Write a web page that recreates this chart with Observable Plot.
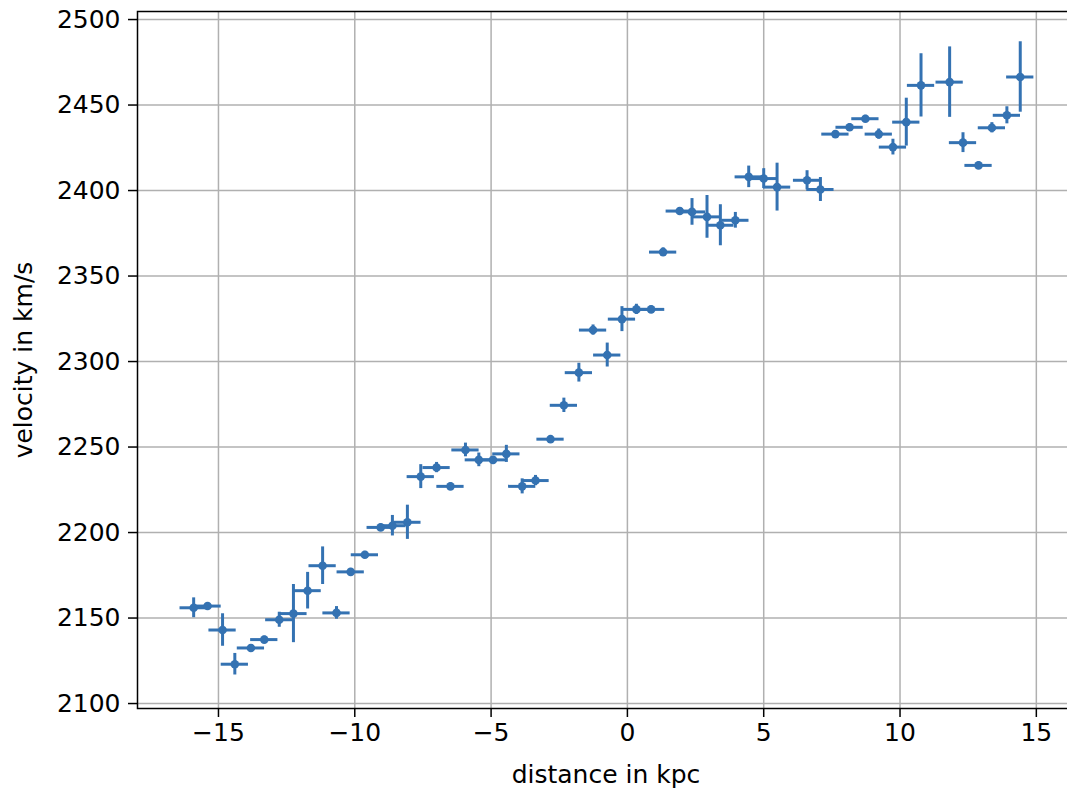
<!DOCTYPE html>
<html>
<head>
<meta charset="utf-8">
<script src="https://cdn.jsdelivr.net/npm/d3@7"></script>
<script src="https://cdn.jsdelivr.net/npm/@observablehq/plot@0.6"></script>
<style>
  html, body { margin: 0; padding: 0; background: white; overflow: hidden; width: 1067px; }
  #chart svg { display: block; }
</style>
</head>
<body>
<div id="chart"></div>
<script>
const distance = [-15.91, -15.4, -14.85, -14.4, -13.81, -13.32, -12.77, -12.25, -11.73, -11.18,
  -10.67, -10.15, -9.63, -9.05, -8.62, -8.07, -7.58, -7.0, -6.49, -5.94,
  -5.45, -4.93, -4.44, -3.86, -3.37, -2.82, -2.33, -1.78, -1.26, -0.74,
  -0.2, 0.33, 0.87, 1.31, 1.92, 2.37, 2.92, 3.41, 3.96, 4.45,
  5.0, 5.49, 6.59, 7.08, 7.63, 8.15, 8.73, 9.22, 9.74, 10.23,
  10.77, 11.82, 12.31, 12.88, 13.37, 13.92, 14.41];
const velocity = [2156, 2157, 2143, 2123, 2132.5, 2137.4, 2149, 2152.6, 2166, 2180.6,
  2153, 2177, 2187, 2203, 2204, 2206, 2232.7, 2238, 2227, 2248.3,
  2242.5, 2242.5, 2246, 2227, 2230.4, 2254.6, 2274.4, 2293.5, 2318.4, 2303.8,
  2324.8, 2330.5, 2330.5, 2364, 2388, 2387.5, 2384.6, 2379.7, 2382.6, 2408,
  2407, 2402, 2406, 2400.6, 2433, 2437, 2442, 2433, 2425.4, 2440,
  2461.5, 2463.4, 2428, 2414.7, 2436.7, 2444, 2466.4];
const velocityErr = [5.8, 2, 9.5, 6.3, 2, 2, 4.4, 17, 10.7, 11,
  3.7, 2, 2, 2, 6, 10, 7, 3, 2, 4,
  4, 2, 5, 4.4, 3, 2, 4.2, 5.5, 3, 7,
  7.3, 3, 2, 2.5, 2, 7.8, 12.5, 12, 4.6, 6.3,
  5.8, 14, 5.6, 7, 2, 2, 2, 3, 4.6, 14,
  18.5, 20.6, 5.8, 2, 3, 5, 20.6];
const distanceErr = 0.5;

const xTicks = [-15, -10, -5, 0, 5, 10, 15];
const yTicks = [2100, 2150, 2200, 2250, 2300, 2350, 2400, 2450, 2500];
const xLabel = "distance in kpc";
const yLabel = "velocity in km/s";

const data = distance.map((d, i) => ({
  x: d, v: velocity[i], e: velocityErr[i],
  x1: d - distanceErr, x2: d + distanceErr,
  y1: velocity[i] - velocityErr[i], y2: velocity[i] + velocityErr[i]
}));

const blue = "#3472b2";
const fmt = d => d < 0 ? "\u2212" + Math.abs(d) : String(d);

const chart = Plot.plot({
  width: 1067,
  height: 788,
  marginLeft: 137,
  marginRight: -7,
  marginTop: 11,
  marginBottom: 80,
  style: {fontFamily: "DejaVu Sans", fontSize: "25px", color: "black", background: "white", maxWidth: "none", overflow: "hidden"},
  x: {domain: [-17.97, 16.4], label: null},
  y: {domain: [2097.1, 2504.7], label: null},
  marks: [
    Plot.gridX(xTicks, {stroke: "#b0b0b0", strokeOpacity: 1, strokeWidth: 1.5}),
    Plot.gridY(yTicks, {stroke: "#b0b0b0", strokeOpacity: 1, strokeWidth: 1.5}),
    Plot.ruleY(data, {y: "v", x1: "x1", x2: "x2", stroke: blue, strokeWidth: 3}),
    Plot.ruleX(data, {x: "x", y1: "y1", y2: "y2", stroke: blue, strokeWidth: 3}),
    Plot.dot(data, {x: "x", y: "v", r: 4.3, fill: blue, stroke: "none"}),
    Plot.frame({stroke: "black", strokeWidth: 1.5}),
    Plot.axisX(xTicks, {tickSize: 9, tickPadding: 6, tickFormat: fmt, fontSize: 25, stroke: "black", strokeWidth: 1.5, label: xLabel, labelAnchor: "center", labelArrow: "none", labelOffset: 74, fontFamily: "DejaVu Sans"}),
    Plot.axisY(yTicks, {tickSize: 9, tickPadding: 8, tickFormat: fmt, fontSize: 25, stroke: "black", strokeWidth: 1.5, label: yLabel, labelAnchor: "center", labelArrow: "none", labelOffset: 123, fontFamily: "DejaVu Sans"})
  ]
});
document.getElementById("chart").appendChild(chart);
</script>
</body>
</html>
